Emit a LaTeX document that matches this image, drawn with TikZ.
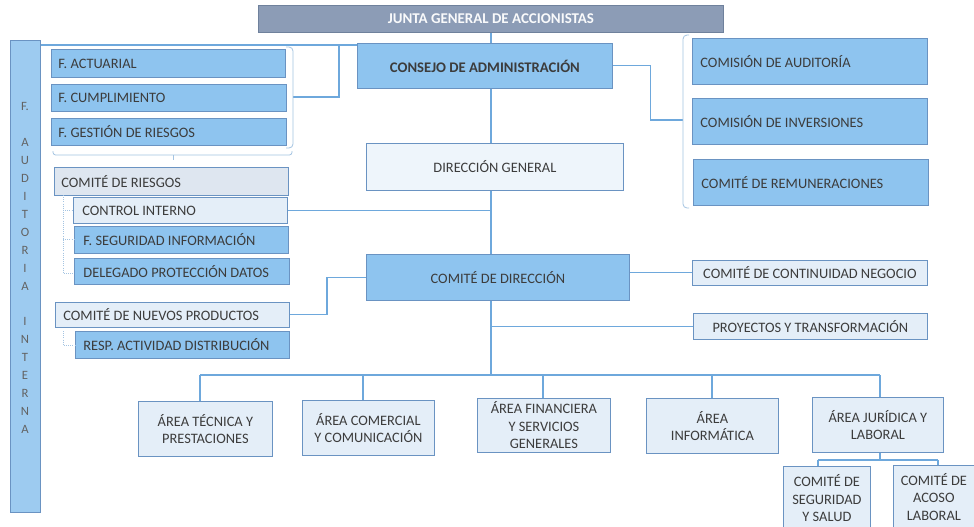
\documentclass[tikz,border=0pt]{standalone}
\usepackage{fontspec}
\setmainfont{Carlito}
\definecolor{bordc}{HTML}{6A93C2}
\definecolor{midc}{HTML}{8EC4EF}
\definecolor{litec}{HTML}{E4EEF8}
\definecolor{dgc}{HTML}{EEF5FB}
\definecolor{greyc}{HTML}{DEE6F0}
\definecolor{jntc}{HTML}{8C9CB6}
\definecolor{jntb}{HTML}{6F819C}
\definecolor{txtc}{HTML}{3C3C3C}
\definecolor{linec}{HTML}{6EA8DC}
\definecolor{brkc}{HTML}{A4C4E2}
\definecolor{audc}{HTML}{9DCBF0}
\tikzset{
  box/.style={draw=bordc, line width=0.6pt, inner sep=0pt, text=txtc, font=\fontsize{10.8}{13.1}\selectfont},
  mid/.style={box, fill=midc},
  lite/.style={box, fill=litec},
  cen/.style={lite, align=center},
  conn/.style={draw=linec, line width=0.8pt},
  brk/.style={draw=brkc, line width=0.6pt},
}
\newcommand{\obox}[7]{\node[#6, anchor=north west, minimum width={(#4-#2)*0.75pt}, minimum height={(#5-#3)*0.75pt}] (#1) at (#2,#3) {#7};}
\newcommand{\oboxL}[8]{\node[#6, anchor=north west, minimum width={(#4-#2)*0.75pt}, minimum height={(#5-#3)*0.75pt}, text width={(#4-#2-2*#8)*0.75pt}, align=flush left] (#1) at (#2,#3) {#7};}
\begin{document}
\begin{tikzpicture}[x=0.75pt,y=-0.75pt]
\useasboundingbox (0,0) rectangle (974,526);
\clip (0,0) rectangle (974,526);
\fill[white] (0,0) rectangle (974,526);

% coordinates
\coordinate (tr) at (491,0);
\coordinate (lt) at (339,45);
\coordinate (lb) at (339,97);
\coordinate (lbr) at (293,97);
\coordinate (rb) at (683,120);
\coordinate (bus) at (491,375);
\coordinate (b1) at (200,375);
\coordinate (b2) at (363,375);
\coordinate (b3) at (543,375);
\coordinate (b4) at (712,375);
\coordinate (b5) at (880,375);
\coordinate (jm) at (880,460);
\coordinate (j1) at (818,460);
\coordinate (j2) at (938,460);

% boxes
\obox{junta}{258}{5}{723}{32}{box, fill=jntc, draw=jntb, text=white!95!jntc, font=\fontsize{11.2}{12}\selectfont\bfseries}{JUNTA GENERAL DE ACCIONISTAS}
\obox{consejo}{357}{43}{612}{88}{mid, font=\fontsize{11}{12}\selectfont\bfseries}{CONSEJO DE ADMINISTRACIÓN}
\obox{dg}{366}{143}{623}{190}{box, fill=dgc}{DIRECCIÓN GENERAL}
\obox{cdir}{366}{254}{629}{300}{mid}{COMITÉ DE DIRECCIÓN}

\obox{aud}{10}{40}{40}{512}{box, fill=audc}{}
\node[text=txtc!80, align=center, font=\fontsize{9.5}{13.45}\selectfont, inner sep=0pt] (audtxt) at (25,268)
  {F.\\[13.45pt]A\\U\\D\\I\\T\\O\\R\\I\\A\\[13.45pt]I\\N\\T\\E\\R\\N\\A};

\oboxL{fact}{51}{49}{285}{77}{mid}{F. ACTUARIAL}{7}
\oboxL{fcum}{51}{84}{286}{111}{mid}{F. CUMPLIMIENTO}{7}
\oboxL{fges}{51}{118}{286}{145}{mid}{F. GESTIÓN DE RIESGOS}{7}
\oboxL{crie}{54}{167}{288}{195}{box, fill=greyc}{COMITÉ DE RIESGOS}{7}
\oboxL{cint}{73}{197}{287}{223}{lite}{CONTROL INTERNO}{9}
\oboxL{fseg}{74}{226}{288}{253}{mid}{F. SEGURIDAD INFORMACIÓN}{9}
\oboxL{dpd}{74}{258}{289}{284}{mid}{DELEGADO PROTECCIÓN DATOS}{9}
\oboxL{cnp}{55}{302}{289}{327}{lite}{COMITÉ DE NUEVOS PRODUCTOS}{8}
\oboxL{rad}{75}{331}{289}{358}{mid}{RESP. ACTIVIDAD DISTRIBUCIÓN}{8}

\oboxL{caud}{692}{38}{927}{84}{mid}{COMISIÓN DE AUDITORÍA}{8}
\oboxL{cinv}{692}{98}{927}{144}{mid}{COMISIÓN DE INVERSIONES}{8}
\oboxL{crem}{693}{159}{928}{205}{mid}{COMITÉ DE REMUNERACIONES}{8}
\obox{ccn}{692}{260}{927}{285}{lite}{COMITÉ DE CONTINUIDAD NEGOCIO}
\obox{pyt}{693}{313}{927}{339}{lite}{PROYECTOS Y TRANSFORMACIÓN}

\obox{atec}{138}{401}{272}{456}{cen}{ÁREA TÉCNICA Y\\PRESTACIONES}
\obox{acom}{302}{400}{434}{455}{cen}{ÁREA COMERCIAL\\Y COMUNICACIÓN}
\obox{afin}{477}{398}{610}{452}{cen}{ÁREA FINANCIERA\\Y SERVICIOS\\GENERALES}
\obox{ainf}{646}{398}{778}{453}{cen}{ÁREA\\INFORMÁTICA}
\obox{ajur}{812}{397}{943}{452}{cen}{ÁREA JURÍDICA Y\\LABORAL}
\obox{cseg}{783}{466}{870}{530}{cen}{COMITÉ DE\\SEGURIDAD\\Y SALUD}
\obox{caco}{893}{465}{974}{528}{cen}{COMITÉ DE\\ACOSO\\LABORAL}

% trunk
\draw[conn] (junta.south -| tr) -- (consejo.north -| tr);
\draw[conn] (consejo.south -| tr) -- (dg.north -| tr);
\draw[conn] (dg.south -| tr) -- (cdir.north -| tr);
\draw[conn] (cdir.south -| tr) -- (bus);
\draw[conn] (cint.east) -- (cint.east -| tr);
\draw[conn] (cdir.west) -- ++(-39,0) |- (cnp.east);
\draw[conn] (cdir.east |- ccn.west) -- (ccn.west);
\draw[conn] (pyt.west -| tr) -- (pyt.west);

% left group
\draw[conn] (aud.east |- lt) -- (consejo.west |- lt);
\draw[conn] (lt) -- (lb) -- (lbr);
\draw[brk, rounded corners=3pt] (286,47) -- (293,47) -- (293,148) -- (286,148);
\draw[brk, rounded corners=2pt] (53,151) -- (53,155) -- (292,155) -- (292,151);
\draw[brk] (173,155) -- (173,160);
\draw[brk, densely dotted] (63,195) -- (63,273) -- (dpd.west |- 0,273);
\draw[brk, densely dotted] (63,210) -- (cint.west |- 0,210);
\draw[brk, densely dotted] (63,239) -- (fseg.west |- 0,239);
\draw[brk, densely dotted] (63,331) -- (63,345) -- (rad.west |- 0,345);

% right group
\draw[conn] (consejo.east) -- ++(38,0) |- (rb);
\draw[brk, rounded corners=3pt] (689,35) -- (683,35) -- (683,208) -- (689,208);

% bus
\draw[conn] (b1) -- (b5);
\draw[conn] (b1) -- (b1 |- atec.north);
\draw[conn] (b2) -- (b2 |- acom.north);
\draw[conn] (b3) -- (b3 |- afin.north);
\draw[conn] (b4) -- (b4 |- ainf.north);
\draw[conn] (b5) -- (b5 |- ajur.north);
\draw[conn] (ajur.south -| jm) -- (jm);
\draw[conn] (j1) -- (j2);
\draw[conn] (j1) -- (j1 |- cseg.north);
\draw[conn] (j2) -- (j2 |- caco.north);
\end{tikzpicture}
\end{document}
